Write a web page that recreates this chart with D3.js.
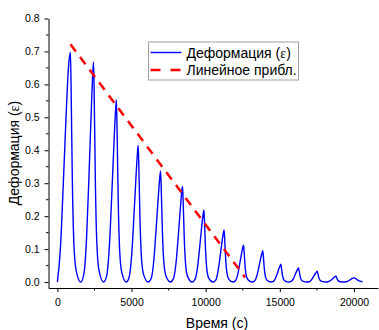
<!DOCTYPE html>
<html>
<head>
<meta charset="utf-8">
<script src="https://cdn.jsdelivr.net/npm/d3@7"></script>
<style>
  body { margin: 0; background: #fff; }
  svg { display: block; font-family: "Liberation Sans", Arial, sans-serif; }
</style>
</head>
<body>
<div id="chart"></div>
<script>
// strain vs time
const timeSec = [
  0, 200, 400, 600, 760, 840, 880, 929, 1006, 1111, 1265,
  1580, 1795, 1967, 2139, 2285, 2388, 2440, 2488, 2562, 2664, 2814,
  3120, 3335, 3507, 3679, 3825, 3928, 3980, 4027, 4101, 4201, 4349,
  4650, 4850, 5010, 5170, 5306, 5402, 5450, 5498, 5572, 5674, 5824,
  6130, 6338, 6504, 6670, 6811, 6910, 6960, 7008, 7082, 7184, 7334,
  7640, 7840, 8000, 8160, 8296, 8392, 8440, 8486, 8557, 8655, 8798,
  9090, 9288, 9446, 9604, 9738, 9833, 9880, 9923, 9990, 10081, 10216,
  10490, 10678, 10828, 10978, 11105, 11195, 11240, 11281, 11346, 11435, 11565,
  11830, 12010, 12154, 12298, 12420, 12507, 12550, 12591, 12654, 12741, 12869,
  13130, 13310, 13454, 13598, 13720, 13807, 13850, 13889, 13949, 14032, 14153,
  14400, 14568, 14702, 14836, 14949, 15030, 15070, 15107, 15165, 15245, 15362,
  15600, 15765, 15897, 16029, 16141, 16220, 16260, 16299, 16361, 16445, 16568,
  16820, 16995, 17135, 17275, 17394, 17478, 17520, 17559, 17621, 17705, 17828,
  18080, 18255, 18395, 18535, 18654, 18738, 18780, 18819, 18879, 18962, 19082,
  19330, 19500, 19640, 19780, 19900, 19980, 20020, 20100, 20250, 20400, 20580
];
const strain = [
  0, 0.1, 0.3, 0.52, 0.66, 0.69, 0.697, 0.572, 0.314, 0.118, 0.035,
  0, 0.027, 0.134, 0.334, 0.521, 0.635, 0.668, 0.548, 0.301, 0.114, 0.033,
  0, 0.022, 0.111, 0.277, 0.431, 0.525, 0.553, 0.453, 0.249, 0.094, 0.028,
  0, 0.017, 0.083, 0.208, 0.324, 0.394, 0.415, 0.340, 0.187, 0.071, 0.021,
  0, 0.013, 0.067, 0.169, 0.263, 0.320, 0.337, 0.276, 0.152, 0.057, 0.017,
  0, 0.012, 0.058, 0.145, 0.226, 0.276, 0.290, 0.238, 0.131, 0.049, 0.015,
  0, 0.009, 0.044, 0.110, 0.171, 0.208, 0.219, 0.180, 0.099, 0.037, 0.011,
  0, 0.006, 0.032, 0.079, 0.123, 0.150, 0.158, 0.130, 0.071, 0.027, 0.008,
  0, 0.004, 0.022, 0.056, 0.087, 0.106, 0.112, 0.092, 0.050, 0.019, 0.006,
  0, 0.004, 0.019, 0.048, 0.074, 0.090, 0.095, 0.078, 0.043, 0.016, 0.005,
  0, 0.002, 0.011, 0.027, 0.042, 0.051, 0.054, 0.044, 0.024, 0.009, 0.003,
  0, 0.002, 0.009, 0.022, 0.034, 0.041, 0.043, 0.035, 0.019, 0.007, 0.002,
  0, 0.001, 0.007, 0.017, 0.026, 0.031, 0.033, 0.027, 0.015, 0.006, 0.002,
  0, 0.001, 0.004, 0.009, 0.014, 0.017, 0.018, 0.015, 0.008, 0.003, 0.001,
  0, 0.001, 0.004, 0.008, 0.011, 0.0125, 0.013, 0.011, 0.006, 0.003, 0.001
];

// linear fit (red dashed)
const fitTime = [880, 12660];
const fitVals = [0.722, 0.014];

const xTicks = [0, 5000, 10000, 15000, 20000];
const xMinor = [2500, 7500, 12500, 17500];
const yTicks = [0, 0.1, 0.2, 0.3, 0.4, 0.5, 0.6, 0.7, 0.8];
const yMinor = [0.05, 0.15, 0.25, 0.35, 0.45, 0.55, 0.65, 0.75];

const seriesNames = ['Деформация (', 'Линейное прибл.'];

const W = 379, H = 330;

const x = d3.scaleLinear().domain([-600, 21620]).range([48.5, 378]);
const y = d3.scaleLinear().domain([-0.018, 0.8]).range([288, 18.5]);

const svg = d3.select('#chart').append('svg')
  .attr('width', W)
  .attr('height', H);

// Axises
const xAxis = d3.axisBottom(x)
  .tickValues(xTicks)
  .tickSizeInner(4)
  .tickSizeOuter(0)
  .tickPadding(7)
  .tickFormat(d3.format('d'));

const yAxis = d3.axisLeft(y)
  .tickValues(yTicks)
  .tickSizeInner(4)
  .tickSizeOuter(0)
  .tickPadding(5)
  .tickFormat(d3.format('.1f'));

function styleAxis(g) {
  g.select('.domain').attr('stroke', '#000').attr('stroke-width', 1);
  g.selectAll('.tick line').attr('stroke', '#000');
  g.selectAll('.tick text')
    .attr('fill', '#000')
    .style('font-size', '10.5px')
    .style('font-family', '"Liberation Sans", Arial, sans-serif');
}

svg.append('g')
  .attr('transform', 'translate(0,288)')
  .call(xAxis)
  .call(styleAxis)
  .call(g => g.selectAll('.minor')
    .data(xMinor).enter().append('line')
    .attr('class', 'minor')
    .attr('x1', d => x(d)).attr('x2', d => x(d))
    .attr('y1', 0).attr('y2', 2.5)
    .attr('stroke', '#000'));

svg.append('g')
  .attr('transform', 'translate(48.5,0)')
  .call(yAxis)
  .call(styleAxis)
  .call(g => g.selectAll('.minor')
    .data(yMinor).enter().append('line')
    .attr('class', 'minor')
    .attr('y1', d => y(d)).attr('y2', d => y(d))
    .attr('x1', 0).attr('x2', -2.5)
    .attr('stroke', '#000'));

// axis titles
svg.append('text')
  .attr('x', 217)
  .attr('y', 328)
  .attr('text-anchor', 'middle')
  .style('font-size', '14px')
  .text('Время (с)');

const yTitle = svg.append('text')
  .attr('transform', 'translate(19,153) rotate(-90)')
  .attr('text-anchor', 'middle')
  .style('font-size', '14px');
yTitle.append('tspan').text('Деформация (');
yTitle.append('tspan').style('font-family', '"Liberation Serif", serif').text('ε');
yTitle.append('tspan').text(')');

// strain curve
const pts = timeSec.map((t, i) => [t, strain[i]]);
const line = d3.line()
  .x(d => x(d[0]))
  .y(d => y(d[1]))
  .curve(d3.curveMonotoneX);

svg.append('path')
  .datum(pts)
  .attr('fill', 'none')
  .attr('stroke', '#0000ff')
  .attr('stroke-width', 1.4)
  .attr('d', line);

// fit line
svg.append('path')
  .datum(fitTime.map((t, i) => [t, fitVals[i]]))
  .attr('fill', 'none')
  .attr('stroke', '#ff0000')
  .attr('stroke-width', 2.5)
  .attr('stroke-dasharray', '9,7')
  .attr('d', d3.line().x(d => x(d[0])).y(d => y(d[1])));

// legend
const lg = svg.append('g').attr('transform', 'translate(148.5,42)');
lg.append('rect')
  .attr('width', 150)
  .attr('height', 38)
  .attr('fill', '#fff')
  .attr('stroke', '#a0a0a0');

lg.append('line')
  .attr('x1', 2).attr('x2', 33).attr('y1', 10.5).attr('y2', 10.5)
  .attr('stroke', '#0000ff').attr('stroke-width', 1.4);
lg.append('line')
  .attr('x1', 2).attr('x2', 33).attr('y1', 28).attr('y2', 28)
  .attr('stroke', '#ff0000').attr('stroke-width', 2.5)
  .attr('stroke-dasharray', '10,10');

const t1 = lg.append('text').attr('x', 38).attr('y', 15.5).style('font-size', '14px');
t1.append('tspan').text(seriesNames[0]);
t1.append('tspan').style('font-family', '"Liberation Serif", serif').text('ε');
t1.append('tspan').text(')');

lg.append('text').attr('x', 38).attr('y', 33).style('font-size', '14px').text(seriesNames[1]);
</script>
</body>
</html>
